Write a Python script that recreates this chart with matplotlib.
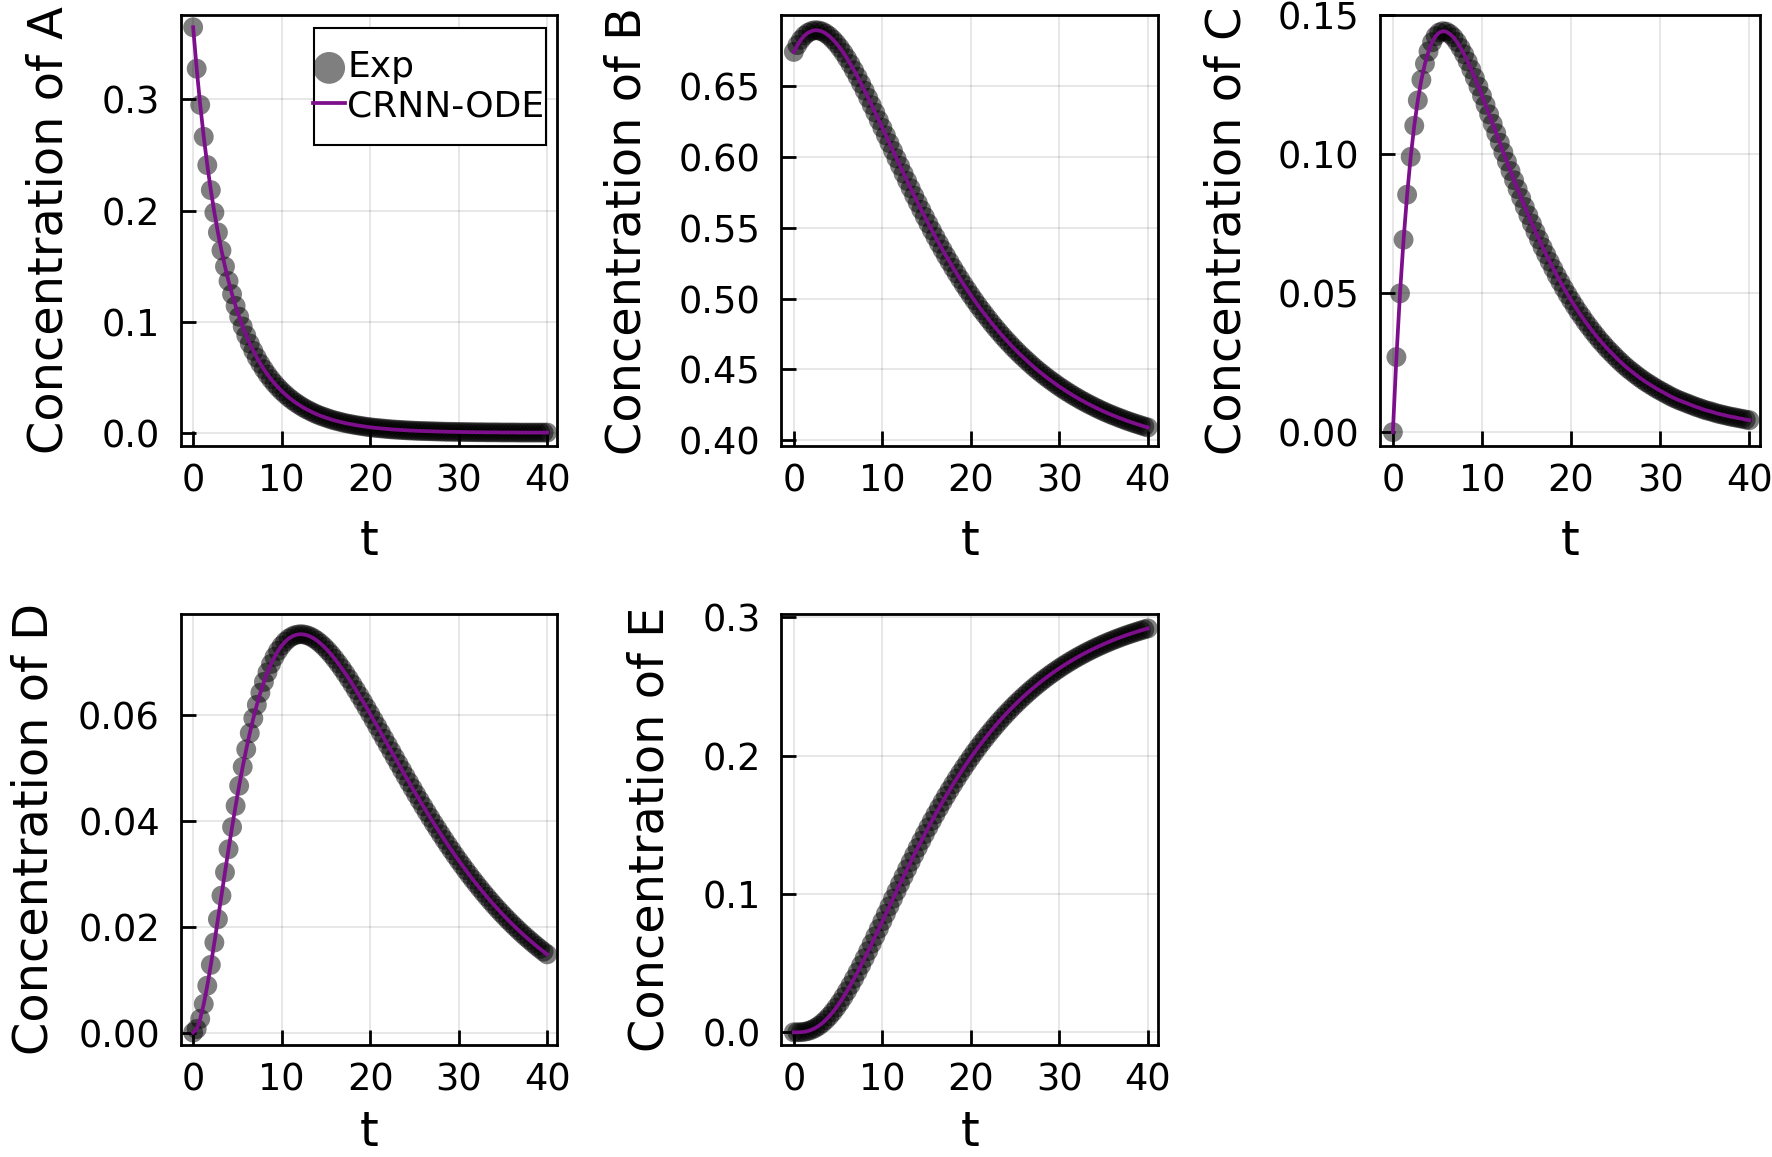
import numpy as np
import matplotlib.pyplot as plt
from matplotlib.patches import Rectangle

# time grid of the samples
t = np.linspace(0, 40, 101)

conc_A = [0.3650, 0.3277, 0.2951, 0.2664, 0.2409, 0.2184, 0.1982, 0.1803, 0.1641, 0.1496,
          0.1365, 0.1247, 0.1141, 0.1044, 0.0956, 0.0876, 0.0803, 0.0737, 0.0676, 0.0621,
          0.0571, 0.0524, 0.0482, 0.0443, 0.0408, 0.0375, 0.0346, 0.0318, 0.0293, 0.0270,
          0.0249, 0.0229, 0.0211, 0.0195, 0.0179, 0.0165, 0.0152, 0.0141, 0.0130, 0.0119,
          0.0110, 0.0102, 0.0094, 0.0086, 0.0080, 0.0074, 0.0068, 0.0063, 0.0058, 0.0053,
          0.0049, 0.0045, 0.0042, 0.0039, 0.0036, 0.0033, 0.0030, 0.0028, 0.0026, 0.0024,
          0.0022, 0.0020, 0.0019, 0.0017, 0.0016, 0.0015, 0.0014, 0.0013, 0.0012, 0.0011,
          0.0010, 0.0009, 0.0008, 0.0008, 0.0007, 0.0007, 0.0006, 0.0006, 0.0005, 0.0005,
          0.0004, 0.0004, 0.0004, 0.0003, 0.0003, 0.0003, 0.0003, 0.0002, 0.0002, 0.0002,
          0.0002, 0.0002, 0.0001, 0.0001, 0.0001, 0.0001, 0.0001, 0.0001, 0.0001, 0.0001,
          0.0001]

conc_B = [0.6740, 0.6788, 0.6826, 0.6855, 0.6875, 0.6887, 0.6893, 0.6891, 0.6884, 0.6870,
          0.6852, 0.6828, 0.6801, 0.6769, 0.6734, 0.6695, 0.6654, 0.6610, 0.6564, 0.6516,
          0.6467, 0.6416, 0.6364, 0.6312, 0.6258, 0.6205, 0.6151, 0.6097, 0.6043, 0.5989,
          0.5936, 0.5882, 0.5830, 0.5778, 0.5726, 0.5676, 0.5626, 0.5577, 0.5529, 0.5481,
          0.5435, 0.5389, 0.5345, 0.5301, 0.5259, 0.5217, 0.5177, 0.5137, 0.5098, 0.5061,
          0.5024, 0.4988, 0.4953, 0.4919, 0.4887, 0.4855, 0.4823, 0.4793, 0.4764, 0.4735,
          0.4707, 0.4681, 0.4654, 0.4629, 0.4604, 0.4581, 0.4558, 0.4535, 0.4513, 0.4492,
          0.4472, 0.4452, 0.4433, 0.4415, 0.4397, 0.4379, 0.4363, 0.4346, 0.4331, 0.4315,
          0.4301, 0.4286, 0.4273, 0.4259, 0.4247, 0.4234, 0.4222, 0.4210, 0.4199, 0.4188,
          0.4178, 0.4168, 0.4158, 0.4149, 0.4139, 0.4131, 0.4122, 0.4114, 0.4106, 0.4098,
          0.4091]

conc_C = [0.0000, 0.0270, 0.0499, 0.0692, 0.0854, 0.0990, 0.1102, 0.1193, 0.1267, 0.1325,
          0.1369, 0.1402, 0.1424, 0.1437, 0.1442, 0.1440, 0.1432, 0.1420, 0.1403, 0.1382,
          0.1359, 0.1333, 0.1304, 0.1274, 0.1243, 0.1210, 0.1177, 0.1143, 0.1109, 0.1075,
          0.1041, 0.1006, 0.0973, 0.0939, 0.0906, 0.0874, 0.0842, 0.0810, 0.0780, 0.0750,
          0.0721, 0.0693, 0.0665, 0.0639, 0.0613, 0.0588, 0.0563, 0.0540, 0.0517, 0.0495,
          0.0474, 0.0454, 0.0434, 0.0416, 0.0397, 0.0380, 0.0363, 0.0347, 0.0331, 0.0317,
          0.0302, 0.0289, 0.0276, 0.0263, 0.0251, 0.0239, 0.0228, 0.0218, 0.0208, 0.0198,
          0.0189, 0.0180, 0.0172, 0.0164, 0.0156, 0.0149, 0.0142, 0.0135, 0.0128, 0.0122,
          0.0116, 0.0111, 0.0106, 0.0101, 0.0096, 0.0091, 0.0087, 0.0082, 0.0078, 0.0075,
          0.0071, 0.0067, 0.0064, 0.0061, 0.0058, 0.0055, 0.0053, 0.0050, 0.0048, 0.0045,
          0.0043]

conc_D = [0.00000, 0.00067, 0.00259, 0.00539, 0.00885, 0.01277, 0.01699, 0.02138, 0.02583, 0.03025,
          0.03458, 0.03877, 0.04277, 0.04656, 0.05012, 0.05342, 0.05648, 0.05928, 0.06182, 0.06411,
          0.06615, 0.06795, 0.06953, 0.07088, 0.07203, 0.07298, 0.07374, 0.07433, 0.07475, 0.07501,
          0.07514, 0.07513, 0.07499, 0.07474, 0.07439, 0.07394, 0.07340, 0.07278, 0.07209, 0.07133,
          0.07051, 0.06963, 0.06871, 0.06774, 0.06673, 0.06569, 0.06462, 0.06352, 0.06240, 0.06127,
          0.06012, 0.05895, 0.05778, 0.05660, 0.05542, 0.05424, 0.05306, 0.05188, 0.05070, 0.04953,
          0.04836, 0.04721, 0.04607, 0.04493, 0.04381, 0.04270, 0.04161, 0.04053, 0.03946, 0.03842,
          0.03739, 0.03637, 0.03537, 0.03440, 0.03343, 0.03249, 0.03157, 0.03066, 0.02977, 0.02890,
          0.02805, 0.02722, 0.02640, 0.02561, 0.02483, 0.02407, 0.02333, 0.02261, 0.02191, 0.02122,
          0.02055, 0.01990, 0.01926, 0.01864, 0.01804, 0.01746, 0.01689, 0.01633, 0.01579, 0.01527,
          0.01476]

conc_E = [0.00000, 0.00003, 0.00011, 0.00040, 0.00096, 0.00184, 0.00305, 0.00463, 0.00658, 0.00890,
          0.01157, 0.01459, 0.01793, 0.02158, 0.02551, 0.02969, 0.03411, 0.03872, 0.04352, 0.04847,
          0.05356, 0.05875, 0.06403, 0.06938, 0.07478, 0.08021, 0.08566, 0.09110, 0.09654, 0.10195,
          0.10733, 0.11266, 0.11794, 0.12315, 0.12830, 0.13338, 0.13838, 0.14329, 0.14812, 0.15286,
          0.15751, 0.16206, 0.16652, 0.17087, 0.17513, 0.17930, 0.18336, 0.18732, 0.19119, 0.19496,
          0.19863, 0.20221, 0.20569, 0.20908, 0.21237, 0.21558, 0.21869, 0.22172, 0.22466, 0.22751,
          0.23028, 0.23297, 0.23559, 0.23812, 0.24058, 0.24296, 0.24527, 0.24751, 0.24968, 0.25178,
          0.25382, 0.25580, 0.25771, 0.25956, 0.26135, 0.26309, 0.26476, 0.26639, 0.26796, 0.26948,
          0.27096, 0.27238, 0.27375, 0.27509, 0.27637, 0.27762, 0.27882, 0.27998, 0.28110, 0.28219,
          0.28323, 0.28425, 0.28522, 0.28617, 0.28708, 0.28796, 0.28881, 0.28963, 0.29042, 0.29119,
          0.29192]

species = ['A', 'B', 'C', 'D', 'E']
series = [conc_A, conc_B, conc_C, conc_D, conc_E]
x_ticks = [0, 10, 20, 30, 40]
y_ticks = [[0.0, 0.1, 0.2, 0.3],
           [0.40, 0.45, 0.50, 0.55, 0.60, 0.65],
           [0.00, 0.05, 0.10, 0.15],
           [0.00, 0.02, 0.04, 0.06],
           [0.0, 0.1, 0.2, 0.3]]
y_fmt = ['%.1f', '%.2f', '%.2f', '%.2f', '%.1f']
y_lims = [(-0.012, 0.376), (0.396, 0.700), (-0.005, 0.150), (-0.0023, 0.079), (-0.009, 0.3025)]

# --posiciones de los paneles (fraccion de la figura)
boxes = [[0.102, 0.6145, 0.2125, 0.3725],
         [0.441, 0.6145, 0.2125, 0.3725],
         [0.779, 0.6145, 0.2140, 0.3725],
         [0.102, 0.0970, 0.2125, 0.3725],
         [0.441, 0.0970, 0.2125, 0.3725]]
ylab_x = [-0.35, -0.41, -0.405, -0.39, -0.35]
xlab_y = [-0.222, -0.222, -0.222, -0.203, -0.203]

purple = '#7d0f8c'

fig = plt.figure(figsize=(17.72, 11.57), dpi=100)

for i in range(5):
    ax = fig.add_axes(boxes[i])
    ax.scatter(t, series[i], s=205, color='black', alpha=0.5, edgecolors='none',
               label='Exp', zorder=2)
    ax.plot(t, series[i], color=purple, lw=2.7, label='CRNN-ODE', zorder=3)
    ax.set_xlim(-1.4, 41.15)
    ax.set_ylim(*y_lims[i])
    ax.set_xticks(x_ticks)
    ax.set_yticks(y_ticks[i])
    ax.set_yticklabels([y_fmt[i] % v for v in y_ticks[i]])
    ax.grid(True, color='black', alpha=0.1, lw=1.3)
    ax.set_axisbelow(True)
    ax.tick_params(direction='in', length=11, width=2, labelsize=26.5,
                   top=False, right=False)
    ax.tick_params(axis='y', pad=15)
    ax.tick_params(axis='x', pad=12)
    for sp in ax.spines.values():
        sp.set_linewidth(2)
    ax.set_xlabel('t', fontsize=34.5, va='center')
    ax.set_ylabel('Concentration of ' + species[i], fontsize=34.5, va='center')
    ax.xaxis.set_label_coords(0.5, xlab_y[i])
    ax.yaxis.set_label_coords(ylab_x[i], 0.5)
    if i == 0:
        # caja de la leyenda dibujada aparte
        ax.add_patch(Rectangle((0.354, 0.698), 0.617, 0.272, transform=ax.transAxes,
                               facecolor='white', edgecolor='black', lw=1.5,
                               zorder=4, clip_on=False))
        leg = ax.legend(loc='upper left', bbox_to_anchor=(0.351, 0.918),
                        fontsize=26, frameon=False, borderpad=0,
                        labelspacing=0.13, handlelength=0.9,
                        handletextpad=0.05, borderaxespad=0, markerscale=1.6)
        leg.set_zorder(5)

fig.savefig('out.png', dpi=100)
